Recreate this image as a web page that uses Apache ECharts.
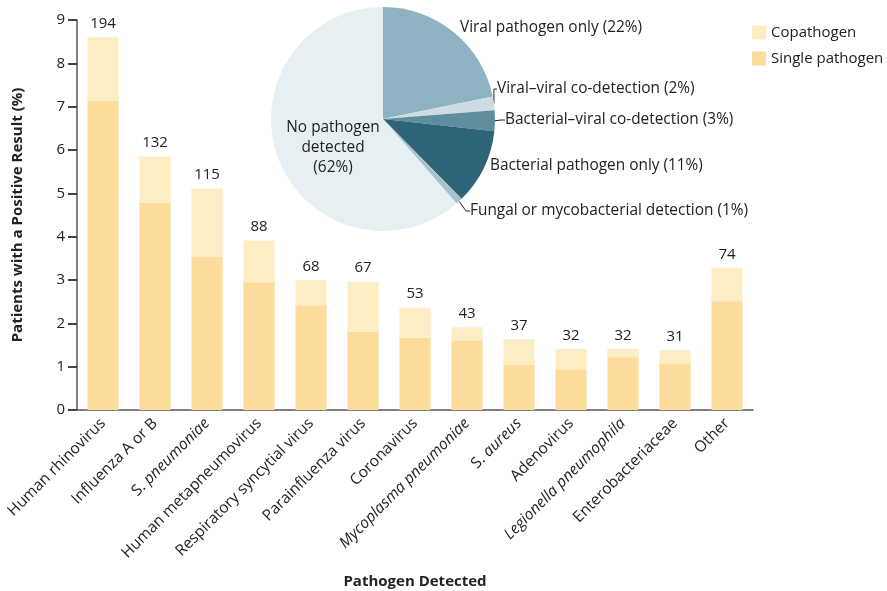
<!DOCTYPE html>
<html><head><meta charset="utf-8">
<script src="https://cdn.jsdelivr.net/npm/echarts@6/dist/echarts.min.js"></script>
<style>html,body{margin:0;padding:0;background:#fff}#c{width:887px;height:591px}</style>
</head><body><div id="c"></div>
<script>
const categories = ['Human rhinovirus','Influenza A or B','S. pneumoniae','Human metapneumovirus','Respiratory syncytial virus','Parainfluenza virus','Coronavirus','Mycoplasma pneumoniae','S. aureus','Adenovirus','Legionella pneumophila','Enterobacteriaceae','Other'];
const singlePathogen = [7.14,4.78,3.53,2.95,2.42,1.81,1.67,1.61,1.05,0.94,1.22,1.08,2.51];
const totalPositive = [8.60,5.85,5.11,3.91,3.00,2.96,2.36,1.91,1.63,1.41,1.41,1.38,3.28];
const copathogen = totalPositive.map((t,i)=>+(t-singlePathogen[i]).toFixed(2));
const counts = [194,132,115,88,68,67,53,43,37,32,32,31,74];
const yTicks = [0,1,2,3,4,5,6,7,8,9];
const pieNames = ['Viral pathogen only (22%)','Viral\u2013viral co-detection (2%)','Bacterial\u2013viral co-detection (3%)','Bacterial pathogen only (11%)','Fungal or mycobacterial detection (1%)','No pathogen\ndetected\n(62%)'];
const pieValues = [22,2,3,11,1,62];

const FONT = 'Open Sans';
const TXT = '#222';
const FS = 15;
const richLabel = {
  n: {fontFamily: FONT, fontSize: 15.5, color: TXT},
  i: {fontFamily: FONT, fontSize: 15.5, color: TXT, fontStyle: 'italic'}
};
function fmtCat(v){
  if (v === 'S. pneumoniae') return '{n|S. }{i|pneumoniae}';
  if (v === 'S. aureus') return '{n|S. }{i|aureus}';
  if (v === 'Mycoplasma pneumoniae' || v === 'Legionella pneumophila') return '{i|' + v + '}';
  return '{n|' + v + '}';
}
const pieColors = ['#8fb2c2','#cddce3','#5e8d9e','#2e6477','#a8c2cd','#e6eff2'];
const labelPos = [
  {x:460, y:28, align:'left', line:false},
  {x:497, y:89, align:'left', line:true},
  {x:505, y:120, align:'left', line:true},
  {x:490, y:166, align:'left', line:false},
  {x:470, y:211, align:'left', line:true},
  {x:333, y:148, align:'center', line:false}
];

const chart = echarts.init(document.getElementById('c'), null, {renderer:'canvas'});
chart.setOption({
  animation: false,
  textStyle: {fontFamily: FONT},
  legend: {
    data: ['Copathogen','Single pathogen'],
    orient: 'vertical', left: 747, top: 20, itemWidth: 14, itemHeight: 14, itemGap: 11,
    icon: 'rect',
    textStyle: {fontFamily: FONT, fontSize: FS, color: TXT}
  },
  grid: {left: 77, right: 134, top: 20, bottom: 181, containLabel: false, outerBoundsMode: 'none'},
  xAxis: {
    type: 'category', data: categories,
    name: 'Pathogen Detected', nameLocation: 'middle', nameGap: 164,
    nameTextStyle: {fontFamily: FONT, fontSize: FS, fontWeight: 'bold', color: TXT},
    axisLine: {lineStyle: {color: '#555', width: 1.5}},
    axisTick: {show: false},
    axisLabel: {rotate: 45, margin: 11, interval: 0, formatter: fmtCat, rich: richLabel}
  },
  yAxis: {
    type: 'value', min: 0, max: 9, interval: 1,
    name: 'Patients with a Positive Result (%)', nameLocation: 'middle', nameGap: 52,
    nameTextStyle: {fontFamily: FONT, fontSize: FS, fontWeight: 'bold', color: TXT},
    axisLine: {show: true, onZero: false, lineStyle: {color: '#555', width: 1.5}},
    axisTick: {show: true, length: 9, lineStyle: {color: '#444', width: 2}},
    axisLabel: {fontFamily: FONT, fontSize: FS, color: TXT, margin: 12},
    splitLine: {show: false}
  },
  series: [
    {name: 'Single pathogen', type: 'bar', stack: 'a', data: singlePathogen, barWidth: '60%',
     itemStyle: {color: '#fddc9b'}},
    {name: 'Copathogen', type: 'bar', stack: 'a', data: copathogen, barWidth: '60%',
     itemStyle: {color: '#fdedc4'},
     label: {show: true, position: 'top', distance: 6, fontFamily: FONT, fontSize: FS, color: TXT,
       formatter: p => counts[p.dataIndex]}},
    {name: 'pie', type: 'pie', center: [383, 119], radius: 112, startAngle: 90, clockwise: true,
     data: pieNames.map((n,i)=>({name: n, value: pieValues[i], itemStyle: {color: pieColors[i]},
       labelLine: {show: labelPos[i].line}})),
     itemStyle: {borderWidth: 0},
     label: {show: true, position: 'outside', fontFamily: FONT, fontSize: 15.4, color: TXT, lineHeight: 20,
       formatter: '{b}'},
     labelLine: {show: true, length: 4, length2: 4, lineStyle: {color: '#222', width: 1}},
     labelLayout: p => {
       const l = labelPos[p.dataIndex];
       return {x: l.x, y: l.y, align: l.align, verticalAlign: 'middle'};
     },
     emphasis: {disabled: true}
    }
  ]
});
</script></body></html>
